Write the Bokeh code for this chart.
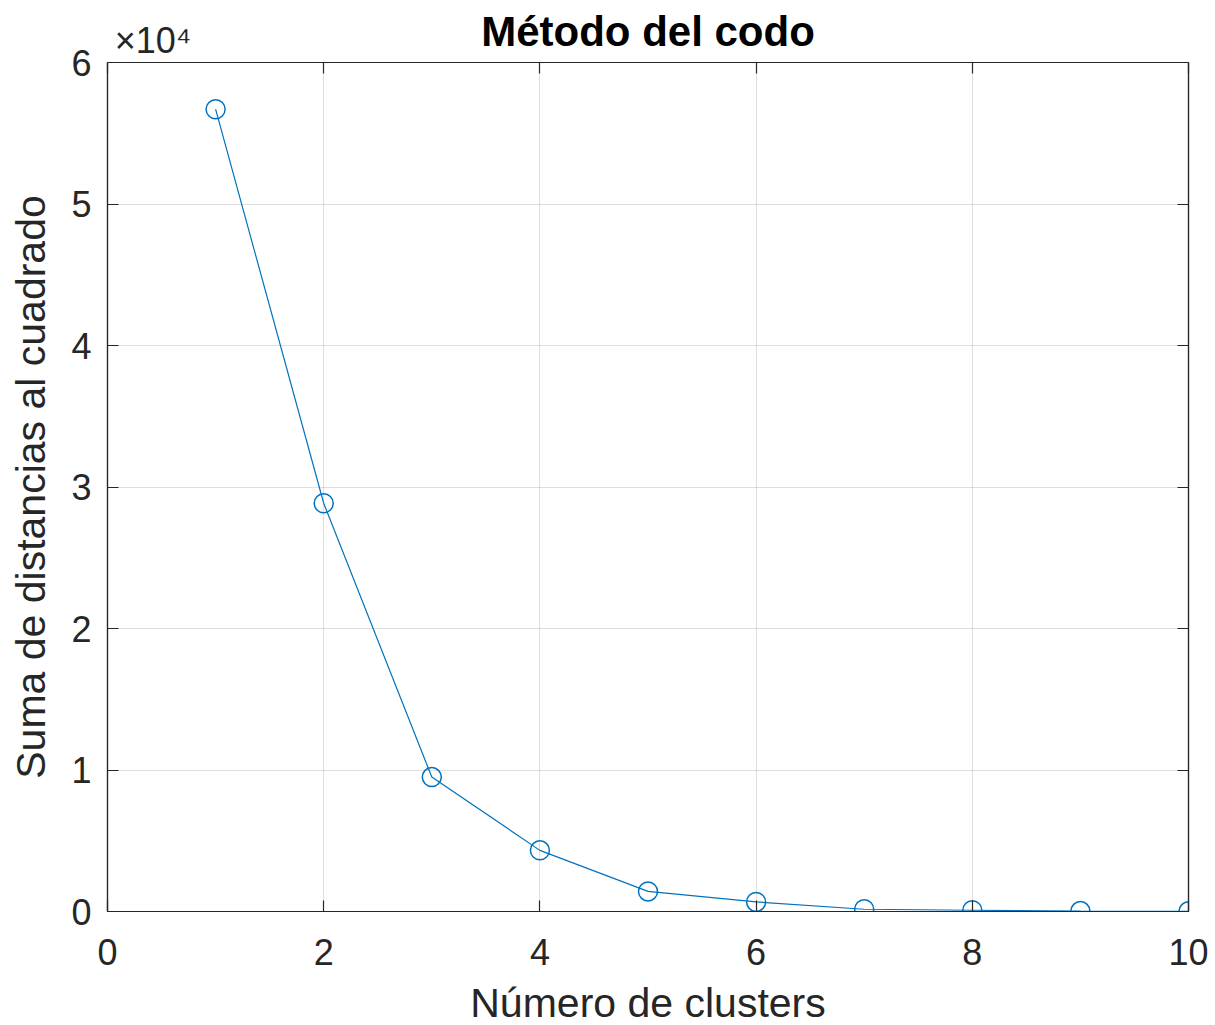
from bokeh.plotting import figure
from bokeh.models import FixedTicker, LinearAxis, Range1d, Title
from bokeh.embed import file_html
from bokeh.resources import INLINE

clusters = [1, 2, 3, 4, 5, 6, 7, 8, 9, 10]
sse = [56700, 28850, 9500, 4320, 1420, 680, 160, 90, 30, 10]

x_ticks = [0, 2, 4, 6, 8, 10]
y_ticks = [0, 10000, 20000, 30000, 40000, 50000, 60000]
y_tick_labels = ["0", "1", "2", "3", "4", "5", "6"]
title_text = "Método del codo"
exponent_text = "×10⁴"
exponent_tick = 0.42   # where the exponent note is centred along the top edge

FONT = "Liberation Sans"
TXT = "#262626"
BLUE = "#0072BD"

p = figure(frame_width=1081, frame_height=849, output_backend="svg", toolbar_location=None,
           x_range=Range1d(0, 10), y_range=Range1d(0, 60000),
           min_border_left=107, min_border_right=20, min_border_top=62, min_border_bottom=100)
p.title = Title(text=title_text, align="center", text_font=FONT,
                text_font_size="42px", text_font_style="bold", text_color="#000000", standoff=-76)

p.line(clusters, sse, color=BLUE, line_width=1.2)
p.scatter(clusters, sse, marker="circle", size=19, fill_color=None, line_color=BLUE, line_width=1.5)

def style(ax, labels=True):
    ax.axis_line_color = TXT
    ax.axis_line_width = 1.2
    ax.major_tick_in = 11
    ax.major_tick_out = 0
    ax.minor_tick_line_color = None
    ax.major_tick_line_color = TXT
    ax.major_tick_line_width = 1.2
    ax.major_label_text_font = FONT
    ax.major_label_text_color = TXT
    ax.major_label_text_font_size = "36px" if labels else "0px"
    ax.axis_label_text_font = FONT
    ax.axis_label_text_color = TXT
    ax.axis_label_text_font_size = "41px"
    ax.axis_label_text_font_style = "normal"

xa = p.xaxis[0]
ya = p.yaxis[0]
xa.ticker = FixedTicker(ticks=x_ticks)
ya.ticker = FixedTicker(ticks=y_ticks)
ya.major_label_overrides = {t: l for t, l in zip(y_ticks, y_tick_labels)}
xa.axis_label = "Número de clusters"
ya.axis_label = "Suma de distancias al cuadrado"
style(xa)
style(ya)
xa.major_label_standoff = 27
ya.major_label_standoff = 16
xa.axis_label_standoff = 12
ya.axis_label_standoff = 14

top = LinearAxis(ticker=FixedTicker(ticks=x_ticks))
right = LinearAxis(ticker=FixedTicker(ticks=y_ticks))
style(top, labels=False)
style(right, labels=False)
top.major_label_standoff = 0
p.add_layout(top, "above")
p.add_layout(right, "right")

# exponent note, drawn as the tick label of an extra top axis
expo = LinearAxis(ticker=FixedTicker(ticks=[exponent_tick]))
expo.major_label_overrides = {exponent_tick: exponent_text}
expo.axis_line_color = None
expo.major_tick_line_color = None
expo.minor_tick_line_color = None
expo.major_label_text_font = FONT
expo.major_label_text_font_size = "36px"
expo.major_label_text_color = TXT
expo.major_label_standoff = -4
p.add_layout(expo, "above")

p.xgrid.ticker = FixedTicker(ticks=x_ticks)
p.ygrid.ticker = FixedTicker(ticks=y_ticks)
p.grid.grid_line_color = TXT
p.grid.grid_line_alpha = 0.15
p.grid.grid_line_width = 1
p.outline_line_color = TXT
p.outline_line_width = 1.2

open("out.html", "w").write(file_html(p, INLINE))
